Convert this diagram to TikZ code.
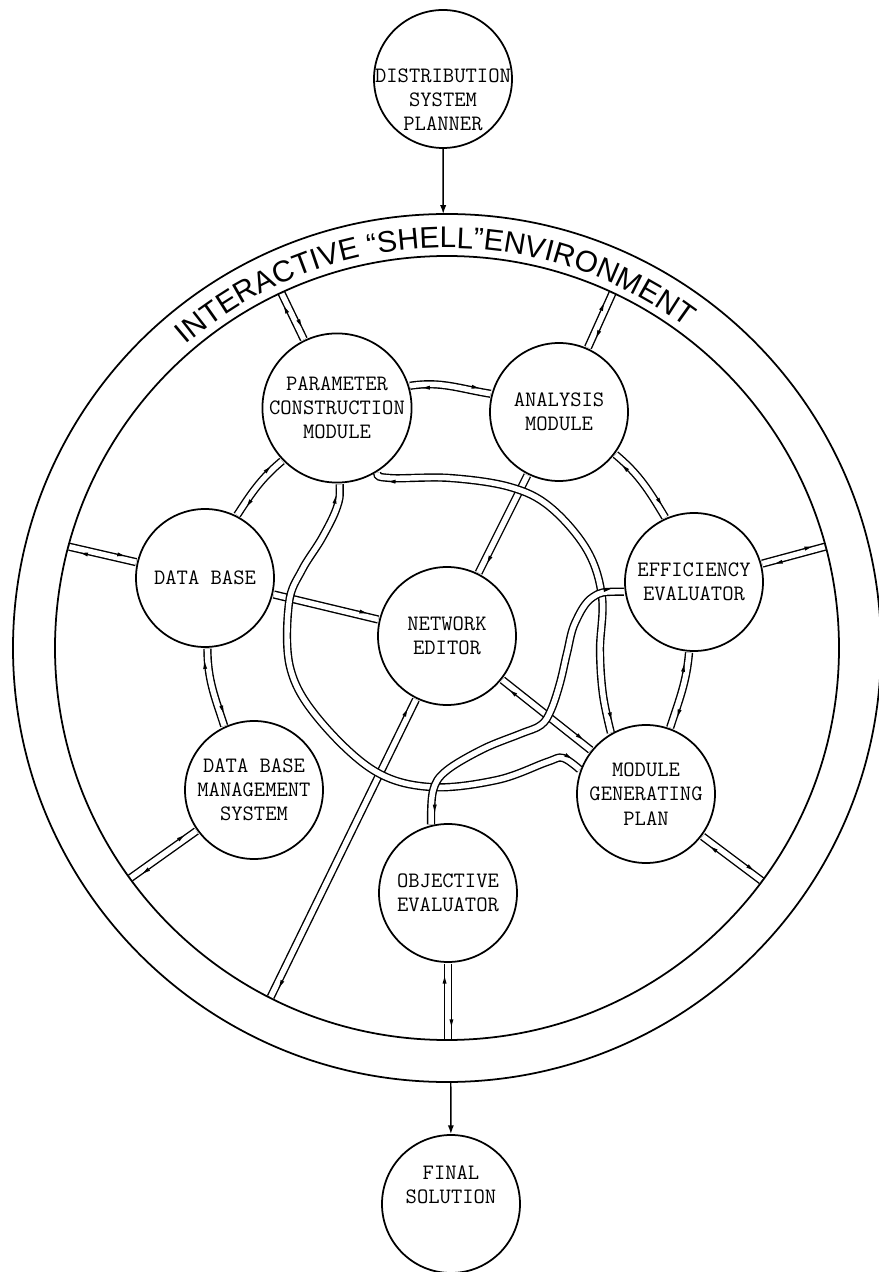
\documentclass[tikz,border=0pt]{standalone}
\usepackage{fontspec}
\newfontfamily\shellfont{Liberation Sans}
\usetikzlibrary{arrows.meta, decorations.markings, decorations.text}

\tikzset{
  bubble/.style={circle, draw, line width=1pt, fill=white, minimum size=27.6mm,
                 inner sep=0pt, align=center},
  txt/.style={align=center},
  link/.style={double, double distance=3.1pt, line width=0.8pt,
               shorten <=0.5pt, shorten >=0.5pt,
    postaction={decorate, decoration={markings,
      mark=at position 10pt with {\fill (-2.2pt,-1.95pt) -- (1.8pt,-0.8pt) -- (1.8pt,-3.1pt) -- cycle;},
      mark=at position -10pt with {\fill (2.2pt,1.95pt) -- (-1.8pt,0.8pt) -- (-1.8pt,3.1pt) -- cycle;}}}},
  feed/.style={line width=0.8pt, -{Latex[length=5pt, width=3.5pt]}}
}

\begin{document}
\begin{tikzpicture}[x=0.2mm, y=0.2mm,
      every node/.style={font=\fontsize{12.5}{13.8}\selectfont\ttfamily}]
    \useasboundingbox (-447,-624) rectangle (432,648);

    % outside the shell
    \node[bubble] (planner) at (-4,569) {};
    \node[txt] (planner-txt) at (-4,548) {DISTRIBUTION\\SYSTEM\\PLANNER};
    \node[bubble] (final) at (4,-556) {};
    \node[txt] (final-txt) at (4,-537) {FINAL\\SOLUTION};

    % modules inside the shell
    \node[bubble] (param) at (-110,240) {PARAMETER\\CONSTRUCTION\\MODULE};
    \node[bubble] (ana)   at (112,236)  {ANALYSIS\\MODULE};
    \node[bubble] (db)    at (-242,70)  {DATA BASE};
    \node[bubble] (net)   at (0,12)     {NETWORK\\EDITOR};
    \node[bubble] (eff)   at (247,66)   {EFFICIENCY\\EVALUATOR};
    \node[bubble] (dbms)  at (-193,-142) {DATA BASE\\MANAGEMENT\\SYSTEM};
    \node[bubble] (mgp)   at (199,-146) {MODULE\\GENERATING\\PLAN};
    \node[bubble] (obj)   at (1,-245)   {OBJECTIVE\\EVALUATOR};

    % points on the shell
    \coordinate (r-top)   at (90.5:434);
    \coordinate (r-bot)   at (-89.5:434);
    \coordinate (r-param) at (115:392);
    \coordinate (r-ana)   at (65:392);
    \coordinate (r-db)    at (165:392);
    \coordinate (r-eff)   at (15:392);
    \coordinate (r-dbms)  at (216:392);
    \coordinate (r-mgp)   at (-36.5:392);
    \coordinate (r-obj)   at (1,-392);
    \coordinate (r-net)   at (243.2:392);

    \draw[feed] (planner) -- (r-top);
    \draw[feed] (r-bot) -- (final);

    % spokes to the shell
    \draw[link] (param) -- (r-param);
    \draw[link] (ana)   -- (r-ana);
    \draw[link] (db)    -- (r-db);
    \draw[link] (eff)   -- (r-eff);
    \draw[link] (dbms)  -- (r-dbms);
    \draw[link] (mgp)   -- (r-mgp);
    \draw[link] (obj)   -- (r-obj);
    \draw[link] (net)   -- (r-net);

    % links round the modules
    \draw[link] (param.17) to[out=9, in=171] (ana.165);
    \draw[link] (ana.-37) to[out=-40, in=121] (eff.114);
    \draw[link] (eff.-94) to[out=-95, in=72] (mgp.70);
    \draw[link] (db.63) to[out=57, in=220] (param.224);
    \draw[link] (db.-88) to[out=-90, in=108] (dbms.115);

    % links to the network editor
    \draw[link] (net) -- (ana);
    \draw[link] (db) -- (net);
    \draw[link] (net) -- (mgp);

    % long links
    \draw[link] plot[smooth, tension=0.6] coordinates {(param.-58) (-57,170) (3,170)
        (63,161) (103,141) (140,98) (155,51) (153,-2) (156,-47) (mgp.120)};
    \draw[link] plot[smooth, tension=0.6] coordinates {(param.-88) (-110,141) (-125,110)
        (-145,78) (-158,45) (-157,-19) (-130,-69) (-74,-122) (-17,-139) (50,-132)
        (100,-114) (116,-110) (mgp.160)};
    \draw[link] plot[smooth, tension=0.6] coordinates {(eff.188) (146,51) (128,25)
        (120,-5) (113,-35) (104,-62) (94,-77) (73,-86) (36,-101) (-1,-123) (-14,-143)
        (obj.104)};

    % the shell
    \draw[line width=1pt] (0,0) circle[radius=434];
    \draw[line width=1pt] (0,0) circle[radius=392];
    \path[decorate, decoration={text along path, text align=center,
        text={|\fontsize{17}{17}\selectfont\shellfont|INTERACTIVE “SHELL”ENVIRONMENT}}]
        (180:400) arc[start angle=180, end angle=4, radius=400];
  \end{tikzpicture}
\end{document}
